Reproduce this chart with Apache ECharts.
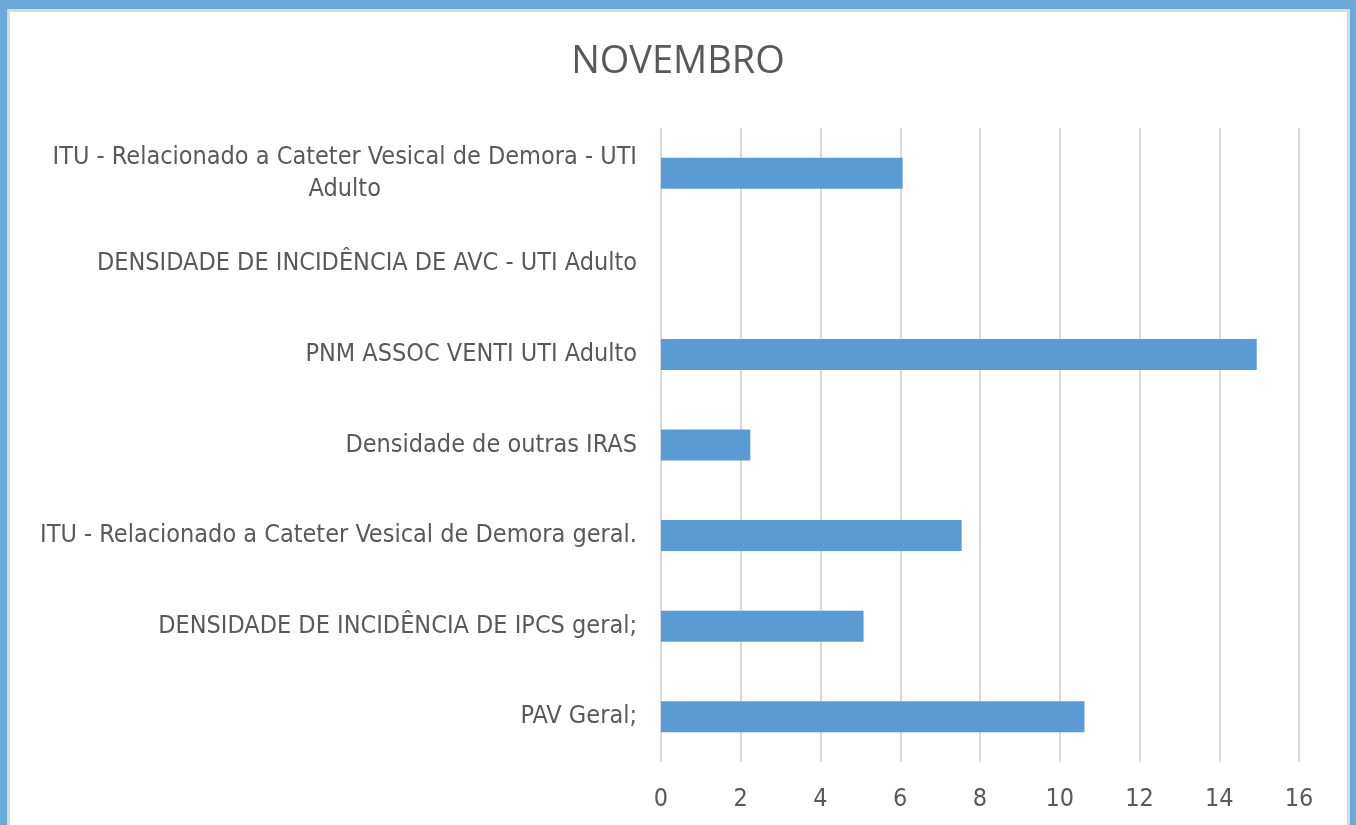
<!DOCTYPE html>
<html>
<head>
<meta charset="utf-8">
<title>NOVEMBRO</title>
<script src="https://cdn.jsdelivr.net/npm/echarts@6/dist/echarts.min.js"></script>
<style>
  html, body {
    margin: 0;
    padding: 0;
    width: 1356px;
    height: 825px;
    overflow: hidden;
    background: #6aaadb;
  }
  .frame {
    position: absolute;
    left: 7px;
    top: 9px;
    width: 1337px;
    height: 900px;
    background: #fff;
    border: 3px solid #d9d9d9;
  }
  #chart {
    position: absolute;
    left: 0;
    top: 0;
    width: 1356px;
    height: 825px;
  }
</style>
</head>
<body>
<div class="frame"></div>
<div id="chart"></div>
<script>
// categories from bottom to top (category axis starts at the bottom)
var categories = [
  'PAV Geral;',
  'DENSIDADE DE INCIDÊNCIA DE IPCS geral;',
  'ITU - Relacionado a Cateter Vesical de Demora geral.',
  'Densidade de outras IRAS',
  'PNM ASSOC VENTI UTI Adulto',
  'DENSIDADE DE INCIDÊNCIA DE AVC - UTI Adulto',
  'ITU - Relacionado a Cateter Vesical de Demora - UTI\nAdulto'
]
var values = [10.62, 5.08, 7.54, 2.24, 14.94, 0, 6.06]
var xTicks = [0, 2, 4, 6, 8, 10, 12, 14, 16]

var labelFont = "'DejaVu Sans Condensed', sans-serif"
var textColor = '#595959'

var myChart = echarts.init(document.getElementById('chart'))
var option = {
  animation: false,
  title: {
    text: 'NOVEMBRO',
    left: 'center',
    top: 38,
    textStyle: {
      fontFamily: "'Open Sans', sans-serif",
      fontWeight: 'normal',
      fontSize: 38,
      color: textColor
    }
  },
  grid: {
    left: 661,
    right: 57,
    top: 128,
    bottom: 63,
    containLabel: false,
    outerBoundsMode: 'none'
  },
  xAxis: {
    type: 'value',
    min: xTicks[0],
    max: xTicks[xTicks.length - 1],
    interval: xTicks[1] - xTicks[0],
    axisLine: { show: false },
    axisTick: { show: false },
    splitLine: {
      show: true,
      lineStyle: { color: '#d9d9d9', width: 2 }
    },
    axisLabel: {
      margin: 25,
      fontFamily: labelFont,
      fontSize: 25,
      color: textColor
    }
  },
  yAxis: {
    type: 'category',
    data: categories,
    axisLine: { show: false },
    axisTick: { show: false },
    axisLabel: {
      margin: 24,
      formatter: function (v) {
        return '{c|' + v + '}'
      },
      rich: {
        c: {
          align: 'center',
          fontFamily: labelFont,
          fontSize: 25,
          lineHeight: 32,
          color: textColor
        }
      }
    }
  },
  series: [
    {
      type: 'bar',
      data: values,
      barWidth: 31,
      itemStyle: { color: '#5b9bd5' }
    }
  ]
}
myChart.setOption(option)
</script>
</body>
</html>
